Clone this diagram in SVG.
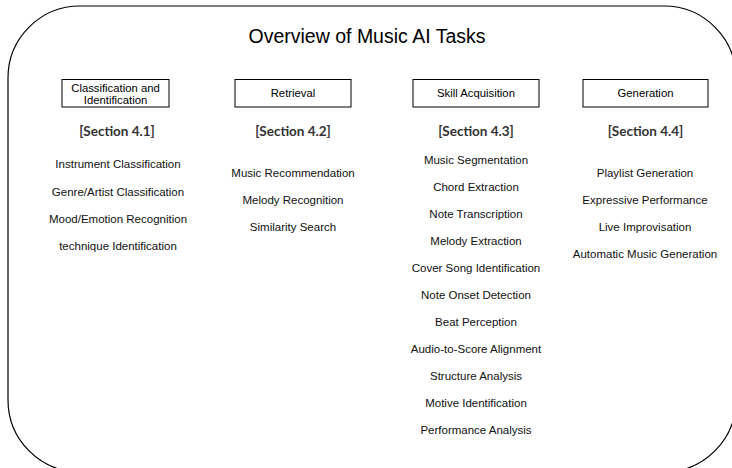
<svg xmlns="http://www.w3.org/2000/svg" width="732" height="468" viewBox="0 0 732 468">
<style>
.frame{fill:#fff;stroke:#000;stroke-width:1.2}
.box{fill:#fff;stroke:#000;stroke-width:1}
.title{font-family:"Liberation Sans",Arial,sans-serif;font-size:19.5px;fill:#000;text-anchor:middle}
.bt{font-family:"Liberation Sans",Arial,sans-serif;font-size:11.3px;fill:#000;text-anchor:middle}
.sec{font-family:Lato,"DejaVu Sans",sans-serif;font-size:13.5px;font-weight:bold;fill:#333;text-anchor:middle}
.it{font-family:"Liberation Sans",Arial,sans-serif;font-size:11.5px;fill:#111;text-anchor:middle}
</style>
<rect width="732" height="468" fill="#fff"/>
<rect class="frame" x="8" y="6" width="728" height="466" rx="72" ry="72"/>
<text class="title" x="367" y="43">Overview of Music AI Tasks</text>
<g id="classification">
<rect class="box" x="62" y="79.5" width="107" height="27.5"/>
<text class="bt" x="115.5" y="91.5">Classification and</text>
<text class="bt" x="115.5" y="104">Identification</text>
<text class="sec" x="117" y="135.5">[Section 4.1]</text>
<text class="it" x="118" y="168">Instrument Classification</text>
<text class="it" x="118" y="196">Genre/Artist Classification</text>
<text class="it" x="118" y="223">Mood/Emotion Recognition</text>
<text class="it" x="118" y="250">technique Identification</text>
</g>
<g id="retrieval">
<rect class="box" x="235" y="79.5" width="116" height="27.5"/>
<text class="bt" x="293" y="97">Retrieval</text>
<text class="sec" x="293" y="135.5">[Section 4.2]</text>
<text class="it" x="293" y="177">Music Recommendation</text>
<text class="it" x="293" y="204">Melody Recognition</text>
<text class="it" x="293" y="231">Similarity Search</text>
</g>
<g id="skill">
<rect class="box" x="413" y="79.5" width="126" height="27.5"/>
<text class="bt" x="476" y="97">Skill Acquisition</text>
<text class="sec" x="476" y="135.5">[Section 4.3]</text>
<text class="it" x="476" y="164">Music Segmentation</text>
<text class="it" x="476" y="191">Chord Extraction</text>
<text class="it" x="476" y="218">Note Transcription</text>
<text class="it" x="476" y="245">Melody Extraction</text>
<text class="it" x="476" y="272">Cover Song Identification</text>
<text class="it" x="476" y="299">Note Onset Detection</text>
<text class="it" x="476" y="326">Beat Perception</text>
<text class="it" x="476" y="353">Audio-to-Score Alignment</text>
<text class="it" x="476" y="380">Structure Analysis</text>
<text class="it" x="476" y="407">Motive Identification</text>
<text class="it" x="476" y="434">Performance Analysis</text>
</g>
<g id="generation">
<rect class="box" x="583" y="79.5" width="125" height="27.5"/>
<text class="bt" x="645.5" y="97">Generation</text>
<text class="sec" x="645.5" y="135.5">[Section 4.4]</text>
<text class="it" x="645" y="177">Playlist Generation</text>
<text class="it" x="645" y="204">Expressive Performance</text>
<text class="it" x="645" y="231">Live Improvisation</text>
<text class="it" x="645" y="258">Automatic Music Generation</text>
</g>
<g id="connectors"></g>
</svg>
